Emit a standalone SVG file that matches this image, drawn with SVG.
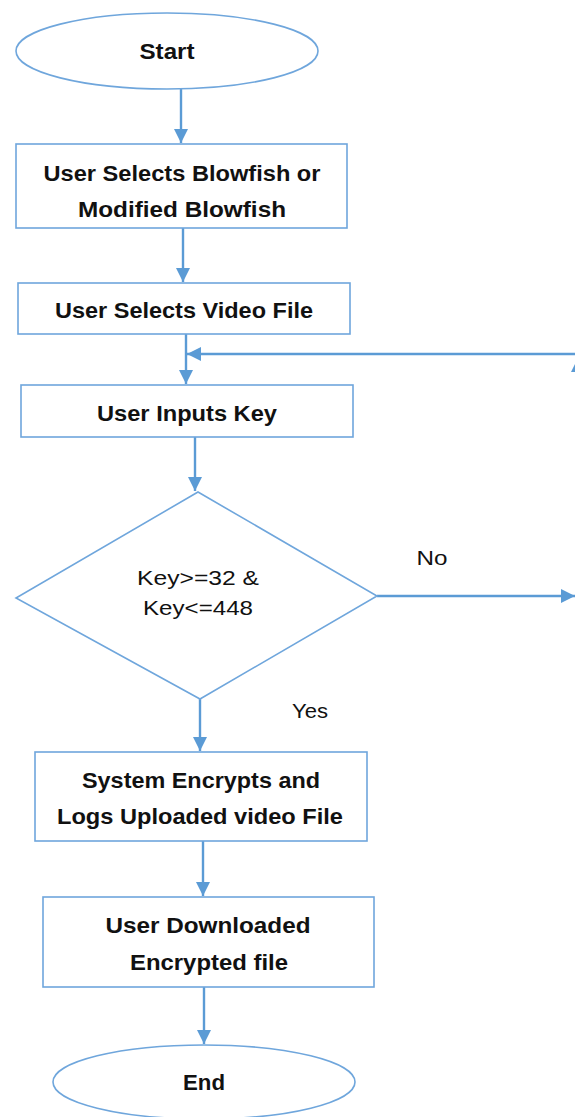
<svg xmlns="http://www.w3.org/2000/svg" width="575" height="1117" viewBox="0 0 575 1117">
<defs>
<style>
.shape{fill:#ffffff;stroke:#6fa6dc;stroke-width:1.6}
.conn{fill:none;stroke:#5b9bd5;stroke-width:2.4}
.b{font-family:"Liberation Sans",Arial,sans-serif;font-weight:bold;font-size:22px;fill:#111;text-anchor:middle;dominant-baseline:central}
.r{font-family:"Liberation Sans",Arial,sans-serif;font-size:21px;fill:#111;text-anchor:middle;dominant-baseline:central}
</style>
<marker id="ah" viewBox="0 0 10 10" refX="10" refY="5" markerWidth="6" markerHeight="6" markerUnits="strokeWidth" orient="auto">
<path d="M0,0 L10,5 L0,10 z" fill="#5b9bd5"/>
</marker>
</defs>
<rect width="575" height="1117" fill="#ffffff"/>
<g id="connectors">
<line class="conn" x1="181" y1="89" x2="181" y2="143" marker-end="url(#ah)"/>
<line class="conn" x1="183" y1="228" x2="183" y2="282" marker-end="url(#ah)"/>
<line class="conn" x1="186" y1="334" x2="186" y2="384" marker-end="url(#ah)"/>
<line class="conn" x1="578" y1="354" x2="187" y2="354" marker-end="url(#ah)"/>
<line class="conn" x1="578" y1="596" x2="578" y2="358" marker-end="url(#ah)"/>
<line class="conn" x1="195" y1="437" x2="195" y2="491" marker-end="url(#ah)"/>
<line class="conn" x1="377" y1="596" x2="575" y2="596" marker-end="url(#ah)"/>
<line class="conn" x1="200" y1="699" x2="200" y2="751" marker-end="url(#ah)"/>
<line class="conn" x1="203" y1="841" x2="203" y2="896" marker-end="url(#ah)"/>
<line class="conn" x1="204" y1="987" x2="204" y2="1044" marker-end="url(#ah)"/>
<text class="r" x="432" y="557" textLength="31" lengthAdjust="spacingAndGlyphs">No</text>
<text class="r" x="310" y="710" textLength="36" lengthAdjust="spacingAndGlyphs">Yes</text>
</g>
<g id="start">
<ellipse class="shape" cx="167" cy="51" rx="151" ry="38"/>
<text class="b" x="167" y="51" textLength="55" lengthAdjust="spacingAndGlyphs">Start</text>
</g>
<g id="select-algorithm">
<rect class="shape" x="16" y="144" width="331" height="84"/>
<text class="b" x="182" y="173" textLength="277" lengthAdjust="spacingAndGlyphs">User Selects Blowfish or</text>
<text class="b" x="182" y="209" textLength="208" lengthAdjust="spacingAndGlyphs">Modified Blowfish</text>
</g>
<g id="select-video">
<rect class="shape" x="18" y="283" width="332" height="51"/>
<text class="b" x="184" y="310" textLength="258" lengthAdjust="spacingAndGlyphs">User Selects Video File</text>
</g>
<g id="input-key">
<rect class="shape" x="21" y="385" width="332" height="52"/>
<text class="b" x="187" y="413" textLength="180" lengthAdjust="spacingAndGlyphs">User Inputs Key</text>
</g>
<g id="key-check">
<polygon class="shape" points="198,492 377,596 200,699 16,598"/>
<text class="r" x="198" y="577" textLength="122" lengthAdjust="spacingAndGlyphs">Key&gt;=32 &amp;</text>
<text class="r" x="198" y="607" textLength="110" lengthAdjust="spacingAndGlyphs">Key&lt;=448</text>
</g>
<g id="encrypt">
<rect class="shape" x="35" y="752" width="332" height="89"/>
<text class="b" x="201" y="780" textLength="238" lengthAdjust="spacingAndGlyphs">System Encrypts and</text>
<text class="b" x="200" y="816" textLength="286" lengthAdjust="spacingAndGlyphs">Logs Uploaded video File</text>
</g>
<g id="download">
<rect class="shape" x="43" y="897" width="331" height="90"/>
<text class="b" x="208" y="925" textLength="205" lengthAdjust="spacingAndGlyphs">User Downloaded</text>
<text class="b" x="209" y="962" textLength="158" lengthAdjust="spacingAndGlyphs">Encrypted file</text>
</g>
<g id="end">
<ellipse class="shape" cx="204" cy="1082" rx="151" ry="37"/>
<text class="b" x="204" y="1082" textLength="42" lengthAdjust="spacingAndGlyphs">End</text>
</g>
</svg>
